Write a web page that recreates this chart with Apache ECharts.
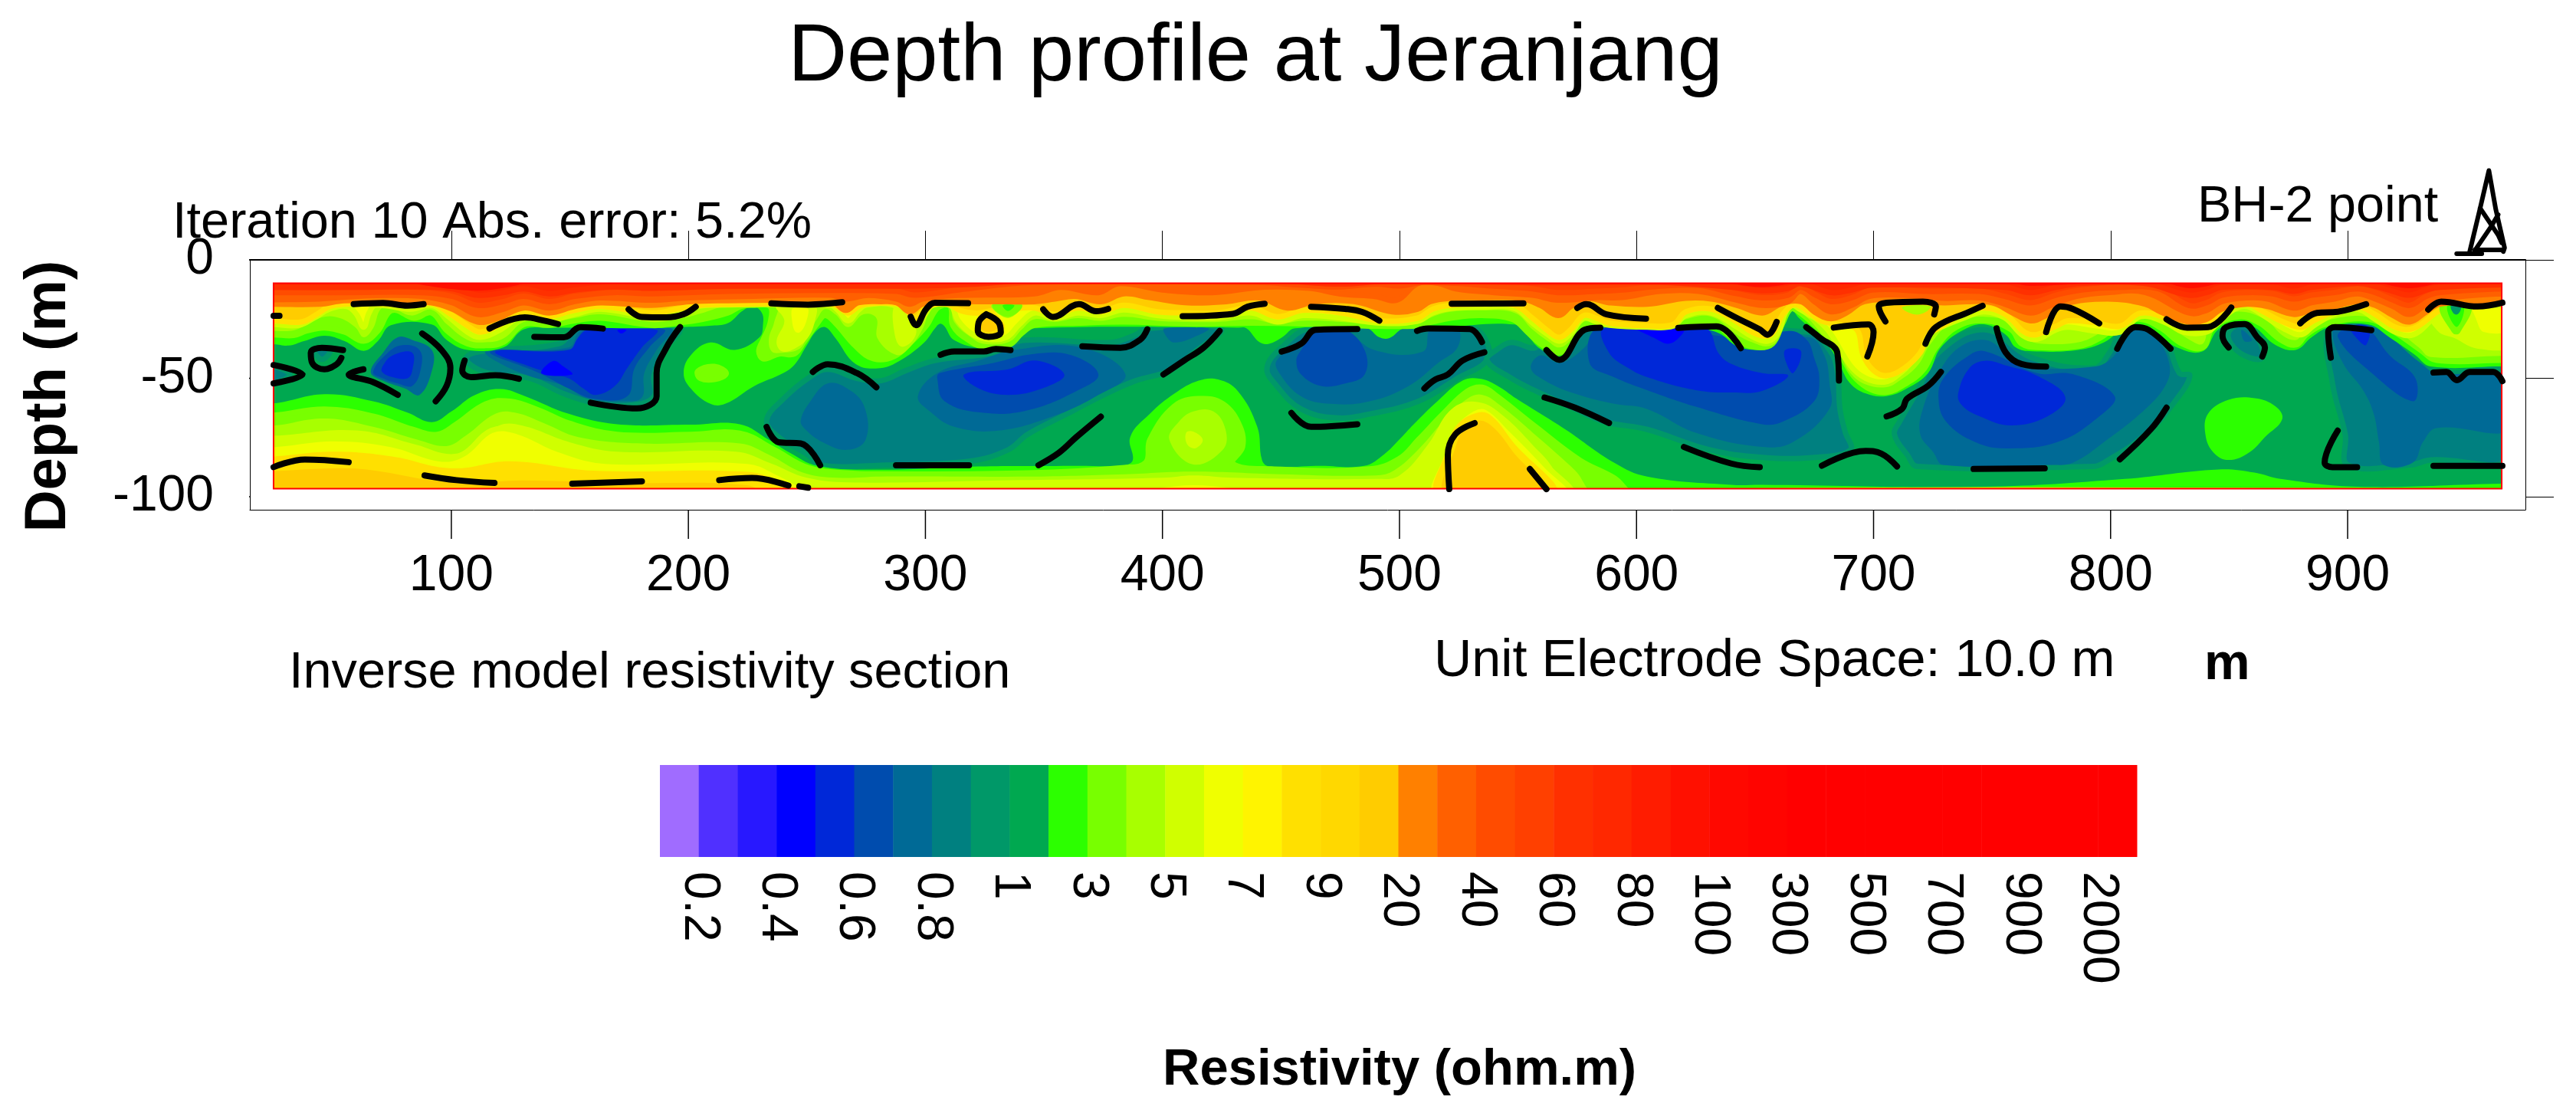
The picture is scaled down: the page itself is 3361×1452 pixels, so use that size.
<!DOCTYPE html>
<html>
<head>
<meta charset="utf-8">
<title>Depth profile at Jeranjang</title>
<style>
  html, body { margin: 0; padding: 0; background: #fff; }
  #chart { width: 3361px; height: 1452px; }
</style>
<script src="https://cdn.jsdelivr.net/npm/echarts@6/dist/echarts.min.js"></script>
</head>
<body>
<div id="chart"></div>
<script>
// colour bar: 38 cells, labelled on every second cell edge
const barLabels = ['0.2','0.4','0.6','0.8','1','3','5','7','9','20','40','60','80','100','300','500','700','900','2000'];
const bandColors = ['#a06cff','#5030ff','#2818ff','#0000ff','#0028d8','#004cae','#006a96','#008080','#009868','#00a850',
  '#2cff00','#78ff00','#a8ff00','#d0ff00','#f0ff00','#fff400','#ffe000','#ffd800','#ffcc00','#ff8000',
  '#ff6000','#ff4c00','#ff4000','#ff3000','#ff2800','#ff1c00','#ff1000','#ff0800','#ff0400','#ff0000',
  '#ff0000','#ff0000','#ff0000','#ff0000','#ff0000','#ff0000','#ff0000','#ff0000'];

const sectionX = [25, 965];
const sectionDepth = [-9.9, -96.6];
const frameX = [15, 975];
const frameDepth = [-105.5, 0];
const distanceTicks = [100,200,300,400,500,600,700,800,900];
const depthTicks = [0,-50,-100];
// how far the ticks stick out of the frame, in axis units
const tickReachDepth = 12.3;
const tickReachX = 12;

// contours of the upper layer: distance (m), depth (m), everything above is the given band or higher
const contourGreen = [[25,-35.6],[31.4,-36.2],[37.8,-34.3],[46.5,-32],[55,-34.3],[63,-38.4],[69,-34.3],[74.5,-27.6],[91.7,-27.3],[98,-33.8],[106.8,-38],[121.9,-37],[130.5,-29.4],[141.3,-28.7],[184.4,-28.9],[195,-28.4],[209,-27.8],[216.7,-26.7],[223,-21.4],[227.5,-19.7],[231,-22.4],[231.5,-27],[230,-32.7],[219.6,-38],[209.3,-34.9],[201,-40.3],[198,-47.8],[201,-54.3],[209.3,-60.8],[215.5,-60.8],[227.9,-53.2],[240,-47.8],[245,-44],[250,-36],[254,-30],[257.7,-28.4],[262,-33],[270.6,-44],[281,-45.7],[289.5,-42.4],[299.5,-34.9],[304,-29],[306,-27],[308,-28],[312,-33.8],[324.5,-37.5],[335,-37],[340.7,-32],[346,-28.9],[432,-28.6],[435.4,-28.9],[441,-34.8],[445,-35.4],[450.5,-32.7],[456,-28.9],[486,-28.9],[491.5,-32.7],[495.8,-33],[502,-28.9],[520,-28.3],[548.6,-27.3],[554,-32],[559.3,-37.5],[567,-40.8],[572.3,-37.5],[577.6,-28.4],[625,-28.8],[634.8,-31],[642.3,-36.4],[651,-38],[657.4,-36.4],[661.7,-27.8],[665,-20.5],[668,-24],[672.7,-28.4],[681.4,-37],[685.8,-44.5],[690,-52],[696.7,-56.4],[705.5,-57.5],[714.2,-54.2],[723,-47.8],[728.4,-37],[738.3,-29.4],[747,-27.3],[755.8,-31.6],[760,-37],[766.7,-38.6],[786.4,-38],[797.3,-34.8],[806,-28.4],[812.6,-27.3],[819,-30.5],[828,-37],[838.9,-38.6],[845.4,-29.4],[854,-26.2],[860.7,-28.4],[869.5,-35.9],[878.2,-38],[884.8,-32.7],[892.4,-28.4],[908.8,-27.3],[917.6,-32.7],[928.5,-40.2],[935,-45],[965,-45]];
const contourLime = [[25,-31.6],[33.5,-31.9],[39,-30],[46.5,-28.7],[55,-30.5],[63,-34.3],[69,-30],[73.4,-22.4],[76.7,-21.3],[84.2,-24.6],[91.7,-22.4],[98.2,-30],[106.8,-35.4],[114.4,-36.2],[122,-34.8],[130.5,-27.3],[141.3,-27.6],[152,-25.7],[163,-24.6],[184.4,-27.6],[195,-26.7],[206,-25.1],[216.7,-22.4],[222,-19.7],[227,-19.2],[234.5,-19.7],[234.5,-26.7],[231.8,-33.2],[229.7,-38.6],[231.8,-41.8],[238.3,-39.7],[244.8,-39.7],[249,-34.3],[254.5,-26.7],[257.7,-23.5],[262,-26.7],[270.6,-36.5],[278.2,-41.8],[286.8,-40.8],[294.4,-34.3],[300.8,-27.3],[303.5,-22.4],[306,-19.7],[310.5,-19.7],[311.6,-27.8],[318,-33.8],[324.5,-36.7],[335.3,-35.9],[340.7,-31],[346,-27.6],[364.3,-26.7],[383.7,-26.2],[410.7,-27],[437.6,-26.7],[459.2,-27],[491.5,-28],[507.6,-27.8],[514,-26.2],[521.6,-24.6],[534.6,-23.5],[547.5,-25.1],[554,-30.5],[559.3,-35.4],[566.9,-39.2],[572.3,-35.9],[577.7,-27.3],[626,-27.8],[631.6,-26.2],[642.4,-34.3],[651,-37],[657.4,-35.4],[661.7,-26.7],[665,-20.8],[668.3,-21.9],[676,-28.4],[683.6,-35.9],[688,-43.5],[692.4,-50],[698.9,-54.8],[705.5,-55.9],[713.1,-52.6],[720.8,-46.7],[726.3,-37],[735,-28.4],[747,-25.7],[758,-29.5],[762.4,-35.4],[768.9,-37],[786.4,-36.5],[795.2,-33.2],[803.9,-27.3],[812.6,-25.1],[821.4,-28.9],[830.1,-35.4],[838.9,-37],[843.3,-28.4],[854.2,-24],[863,-26.8],[871.7,-33.8],[878.3,-35.9],[882.6,-31.6],[890.3,-27.3],[908.9,-25.1],[919.8,-30.5],[930.8,-38.1],[937.5,-42.4],[965,-42.4]];
const contourPale = [[25,-30],[33.5,-29.8],[39,-27.3],[46.5,-24],[53,-24.6],[59.4,-28.4],[63,-32.7],[67,-28.9],[70.2,-20.8],[74.5,-20],[83,-23.5],[91.7,-21.1],[98.2,-27.3],[106.8,-33.8],[114.4,-34.8],[122,-33.2],[130.5,-26.2],[139,-26.7],[152,-24.6],[163,-23],[184.4,-26.2],[195.2,-25.1],[206,-22.4],[212.4,-20.3],[216.7,-19.4],[222,-19.2],[237.2,-19.2],[236.1,-26.7],[234,-33.2],[235.1,-38.6],[239.4,-39.2],[246.9,-37.5],[250.2,-32.1],[254.5,-24.6],[257.7,-20.8],[262,-23],[267.4,-28.4],[273.9,-23],[279.3,-24.6],[279.8,-33.2],[287.9,-40.2],[293.3,-37],[298.7,-29.4],[301.4,-21.9],[303,-19.2],[310,-19.2],[312.1,-26.2],[319.2,-32.7],[324.5,-35.4],[335.3,-34.6],[340.7,-29.4],[346,-25.1],[354.6,-26.2],[364.3,-24.6],[374,-25.7],[383.7,-24],[397.7,-25.7],[410.7,-26.2],[423.6,-26.2],[437.6,-25.1],[448.4,-27],[459.2,-25.7],[475.4,-26.2],[491.5,-27.6],[507.6,-27],[514,-24],[521.6,-21.9],[534.6,-21.3],[548.6,-22.4],[556.1,-29.4],[562.6,-34.3],[567.4,-37],[572.3,-33.8],[577.7,-26.2],[583,-27.3],[588.5,-28.4],[604.6,-28.7],[615.4,-28.5],[620.8,-25.1],[631.6,-24],[642.4,-31.6],[648.8,-34.8],[655.3,-36.5],[659.6,-33.8],[662.8,-24.6],[665,-20.3],[671.6,-24],[679.2,-32.7],[685.8,-40.2],[690.2,-47.8],[696.7,-52.6],[705.5,-53.7],[711,-51],[718.6,-44.6],[724.1,-35.4],[732.8,-26.8],[747,-24],[760.2,-27.3],[765.6,-33.8],[771.1,-35.4],[786.4,-34.8],[795.2,-31],[802.8,-25.1],[812.6,-23.5],[823.6,-27.3],[833.4,-33.8],[838.9,-35.4],[842.2,-26.8],[853.1,-21.9],[865.1,-25.1],[872.8,-32.1],[878.3,-33.8],[881.5,-30.5],[889.2,-26.2],[907.8,-24],[922,-31],[930,-37],[935,-41],[965,-40.5]];
const contourYellow = [[25,-27.3],[35.7,-27.6],[42,-24.6],[48.6,-20.8],[56,-19.7],[60,-23],[63,-28.4],[65.3,-22.4],[68,-19.2],[83,-20.8],[91.7,-19.2],[98.2,-23.5],[106.8,-30.5],[112.2,-32.7],[119.8,-30],[130.5,-23.5],[140.2,-25.7],[152,-23],[163,-20.8],[184.4,-24],[195.2,-22.4],[203.8,-19.7],[211.4,-19.1],[259.9,-19.1],[263.1,-21.3],[267.4,-25.7],[271.7,-21.3],[275,-19.1],[286.3,-19.1],[292.2,-24.6],[296,-28],[300.3,-22.4],[303,-19.2],[310.5,-19.2],[313.8,-25.7],[319.2,-31],[325.6,-33.4],[334.2,-32.7],[339.6,-27.3],[346,-22.4],[354.6,-24.6],[364.3,-22.4],[374,-23.5],[383.7,-21.1],[397.7,-23.5],[410.7,-24.4],[423.6,-24.4],[437.6,-22.4],[448.4,-26.2],[459.2,-23.5],[475.4,-24.6],[491.5,-26.7],[507.6,-25.9],[514,-22.4],[521.6,-20.5],[534.6,-20],[548.6,-20.5],[556.1,-26.7],[562.6,-31.6],[567.4,-34.3],[572.3,-31],[577.7,-24.6],[583,-26.2],[588.5,-27.6],[604.6,-28.4],[615.4,-28],[620.8,-23.5],[631.6,-22.4],[642.4,-28.4],[648.8,-32.4],[655.3,-34.3],[659.6,-31],[662.8,-22.4],[665.5,-19.2],[669.2,-21],[672.4,-23],[676,-25.1],[681.4,-30.5],[690.2,-44.6],[696.7,-50],[704.4,-51.6],[709.9,-48.9],[716.4,-42.4],[720.8,-32.7],[728.4,-28.5],[738.2,-24.5],[746.6,-21.9],[755.4,-24.5],[763,-32],[769,-33.5],[777,-29.5],[782,-28.4],[793,-30],[804,-30.5],[812.6,-24],[823.2,-26.5],[830.8,-30.5],[840.5,-30.5],[845.9,-26.2],[852.3,-20.8],[857.7,-19.7],[865.3,-24],[872.8,-28.9],[880.4,-31.6],[885.7,-27.8],[894.4,-23],[904.1,-20.8],[911.6,-25.1],[920.2,-30.5],[927.8,-31.6],[936.4,-24.6],[944,-19.7],[965,-19.2]];
const contourGold = [[25,-25.7],[36.8,-26.2],[43.2,-23],[48.6,-19.7],[55,-18.7],[68,-18.4],[83,-19.2],[91.7,-18.4],[98.2,-21.9],[106.8,-27.8],[112.2,-30.5],[119.8,-27.8],[130.5,-21.9],[140.2,-24],[152,-21.3],[163,-19.7],[184.4,-22.4],[195.2,-20.8],[203.8,-19.2],[214.6,-18.8],[259.9,-18.6],[263.1,-19.7],[267.4,-22.4],[271.7,-19.7],[275,-18.6],[288,-18.6],[292.2,-21.4],[295.5,-24.6],[300.3,-20.3],[304,-18.7],[310,-19],[315,-21.5],[322,-22.5],[330,-21],[338,-20.5],[346,-20.3],[354.6,-23],[364.3,-20.3],[374,-21.9],[383.7,-19.2],[397.7,-21.9],[410.7,-22.4],[423.6,-22.4],[437.6,-20.3],[448.4,-24],[459.2,-21.3],[475.4,-22.4],[491.5,-25.7],[507.6,-24.6],[514,-20.8],[521.6,-19.2],[534.6,-18.7],[548.6,-19.2],[556.1,-24.6],[562.6,-30],[567.4,-32.7],[572.3,-29.4],[577.7,-23.5],[583,-24.6],[588.5,-26.7],[604.6,-27.8],[615.4,-27.3],[620.8,-21.9],[631.6,-20.8],[642.4,-26.2],[648.8,-30.5],[655.3,-32.1],[658.5,-29.4],[661.7,-23],[666,-19],[669.2,-19.7],[672.4,-21.9],[677.8,-25.7],[685.4,-27.3],[692.9,-29.4],[695.6,-40.2],[700,-46.7],[705.5,-48.9],[713.1,-45.6],[719.7,-39.2],[723,-32],[729.6,-27.5],[738.2,-22.5],[746.6,-20.3],[755.4,-23],[766,-31.5],[777,-28],[782,-25.7],[793,-26.5],[804,-28],[812.6,-22.5],[823.2,-24.6],[830.8,-27.8],[840.5,-27.8],[845.9,-23],[852.3,-19.2],[857.7,-18.6],[865.3,-22.4],[872.8,-26.2],[880.4,-28.4],[885.7,-25.7],[894.4,-21.9],[904.1,-19.7],[911.6,-23],[920.2,-28.4],[927.8,-28.9],[938.6,-21.4],[944,-19.2],[965,-18.7]];
const contourOrange = [[25,-18.7],[44.3,-18.7],[55,-17.2],[76.7,-17.6],[91.7,-18.1],[100.4,-20.8],[111,-26.2],[119.8,-24.6],[130.5,-20.3],[141.3,-22.4],[152,-19.7],[163,-18.1],[184.4,-19.2],[200.6,-17.6],[216.7,-17.2],[238.3,-17],[259.9,-17],[266.3,-21.3],[271.7,-18.1],[281.4,-17.6],[287.9,-18.1],[293.3,-21.9],[298.7,-18.7],[305.1,-17.6],[324.5,-17.6],[346,-17.6],[354.6,-16.5],[363.2,-15.4],[374,-17.6],[383.7,-14.3],[394.5,-15.9],[410.7,-18.1],[426.9,-17.6],[440.9,-16],[452.7,-20.3],[464.6,-17.6],[480.8,-17.6],[496.9,-21.9],[507.6,-20.8],[513,-17.6],[521.6,-16.2],[534.6,-16],[550.7,-16.2],[559.4,-19.2],[566.9,-23.5],[572.3,-19.7],[578.8,-16.2],[588.5,-18.1],[604.6,-18.7],[620.8,-16.2],[631.6,-16.5],[642.4,-19.2],[653.1,-22.4],[660.7,-18.7],[669.2,-17.6],[675.7,-22.4],[682.1,-24.8],[688.6,-22.4],[696.2,-17.6],[712.3,-17],[729.6,-18.1],[739.3,-17.6],[750,-18.1],[758.7,-22.4],[766.2,-25.7],[772.7,-23.5],[780.3,-18.7],[798.6,-16.5],[814.6,-18.7],[821,-21.9],[832.9,-26.2],[840.5,-25.1],[846.9,-20.8],[857.7,-18.7],[866.3,-19.7],[877.1,-23],[884.7,-21.3],[894.4,-19.7],[904.1,-17.6],[911.6,-19.2],[919.2,-23.5],[926.2,-26.2],[933.2,-21.9],[938.6,-18.7],[954.7,-17.6],[965,-16.5]];
const contourFlame = [[25,-16.8],[44.3,-16.5],[65.9,-15.1],[87.4,-15.4],[100.4,-18.1],[111,-23],[122,-20.8],[130.5,-18.1],[141.3,-20.3],[152,-17.6],[163,-16],[184.4,-17],[200.6,-16],[227.5,-15.4],[259.9,-14.9],[266.3,-16.5],[276,-15],[287.9,-16.5],[293.3,-18.7],[298.7,-16.5],[313.8,-15],[346,-14.3],[357,-11.6],[373,-13.8],[381.6,-10],[400,-12.7],[421,-13.8],[443,-11.5],[462,-12],[475,-14.4],[490,-15.5],[499,-17],[507.6,-10],[516.2,-9.9],[523.8,-12.2],[539.9,-13.8],[556.1,-14.9],[566.9,-17],[583,-15.9],[593.8,-15.9],[610,-13.3],[626.2,-13.3],[642.4,-17],[653.1,-19.2],[663.9,-17.6],[669.2,-13.3],[675.7,-18.1],[682.1,-21.9],[690.8,-19.2],[698.3,-15.4],[712.3,-14.9],[729.6,-16.2],[744.7,-16],[755.4,-18.7],[766.2,-22.4],[774.8,-19.2],[785.6,-15.4],[798.6,-13.8],[814.7,-13.8],[833,-22.4],[840.5,-21.3],[846.9,-17.6],[857.7,-16],[866.3,-16.5],[877.1,-20.3],[884.7,-18.1],[894.4,-16.5],[904.1,-14.3],[911.6,-16.5],[919.2,-19.7],[926.2,-23],[933.2,-18.7],[938.6,-16.5],[965,-14.3]];
const contourRed = [[25,-13.8],[55,-13.8],[87.4,-13.8],[100.4,-15.4],[111,-19.2],[122,-17.6],[130.5,-15.4],[141.3,-17.6],[152,-15.4],[168,-13.8],[184.4,-14.3],[216.7,-13.3],[259.9,-12.9],[287.9,-13.3],[295.5,-14.9],[313.8,-12.7],[346,-9.5],[440,-9.5],[458,-10.6],[475,-11.4],[490,-10.2],[500,-11],[510,-9.5],[523.8,-9.9],[539.9,-11.1],[556.1,-12.2],[566.9,-13.8],[583,-13.3],[593.8,-12.7],[610,-11.1],[626.2,-10.8],[642.4,-14.3],[653.1,-16],[663.9,-14.9],[669.2,-11.6],[675.7,-14.9],[682.1,-17.6],[690.8,-16],[699.4,-12.7],[723.1,-13.3],[744.7,-13.3],[755.4,-15.4],[766.2,-18.1],[777,-14.9],[787.8,-12.7],[804,-11.6],[820.1,-12.2],[833,-19.2],[840.5,-18.1],[846.9,-14.9],[857.7,-13.8],[868.5,-14.3],[877.1,-16.5],[884.7,-14.9],[894.4,-13.8],[904.1,-12.2],[911.6,-13.8],[919.2,-17],[926.2,-19.2],[933.2,-15.4],[938.6,-13.8],[965,-12.2]];
const contourDeepRed = [[25,-11.6],[55,-11.6],[87.4,-11.4],[100.4,-12.2],[111,-14.9],[122,-13.8],[130.5,-12.2],[141.3,-14.3],[152,-12.7],[168,-11.4],[184.4,-11.9],[216.7,-11.1],[292.2,-11.1],[320,-10.3],[340,-9],[450,-9],[475,-10.2],[495,-9],[566.9,-9.6],[610,-9.5],[640,-11.5],[653.1,-13],[663.9,-12],[669.2,-10],[682.1,-13.8],[690.8,-12.7],[699.4,-10.6],[755.4,-11.6],[766.2,-13.8],[777,-11.6],[787.8,-9.9],[814,-9.9],[833,-14.9],[840.5,-13.8],[846.9,-11.6],[868.5,-11.6],[877.1,-13.3],[884.7,-11.6],[904.1,-9.9],[911.6,-11.1],[919.2,-13.3],[926.2,-14.9],[933.2,-12.7],[938.6,-11.6],[965,-10.5]];

// contours of the deep layer, everything below is the given band
const floorGreen = [[25,-60.6],[46.5,-56.7],[67,-59.7],[81.5,-64.5],[91.8,-68.5],[100,-64],[110,-57],[120.7,-54.5],[131,-57.5],[149.5,-65],[170,-69.4],[201,-69.6],[221.7,-69.4],[234,-76],[242,-81],[254.6,-87],[281,-88.6],[322.5,-87.2],[363.8,-87],[384,-86.7],[387.5,-84.5],[386.4,-74.8],[394.7,-65],[405,-56.5],[415.3,-51],[423.5,-50.5],[431.8,-55.4],[440,-70.5],[442,-84.5],[445,-87.2],[466.8,-87],[485,-87],[493.6,-82],[499.8,-76],[506,-69.4],[516,-59.7],[526.6,-51],[533.8,-50.2],[541,-53],[549.3,-58.6],[570,-71.6],[590.5,-85.6],[604.5,-91.5],[640,-95],[653,-95],[747,-95.8],[806,-92.5],[845.4,-88.5],[860.7,-89.8],[871.7,-92.5],[904.5,-95.8],[965,-94.5]];
const floorLime = [[25,-65.6],[46.5,-63],[67,-66],[83.5,-71.5],[94,-73.7],[102,-69.4],[114.5,-60.8],[124.8,-59.7],[137,-63.5],[149.5,-68.9],[170,-73.7],[201,-73.7],[221.7,-73.2],[236,-80],[250.5,-87.7],[267,-90],[281,-90.4],[343,-90],[384,-87.7],[393,-85.5],[394.7,-75.9],[405,-61.8],[415.3,-58.6],[425.6,-60.8],[432.8,-70.5],[433.8,-79],[429.7,-86],[446,-88.3],[487.4,-88.3],[499.8,-84],[508,-75.9],[518.4,-65],[528.7,-55.4],[535,-53.8],[541,-57.5],[557.5,-70.5],[576,-84.5],[590.5,-92],[600,-99]];
const floorPale = [[25,-70],[46.5,-67],[67,-70.5],[85.6,-75.9],[98,-78.6],[106,-74.3],[118.6,-65],[126.8,-64.5],[139,-68.9],[153.6,-74.8],[180.4,-77.5],[221.7,-77.5],[234,-82.3],[248.5,-89.9],[263,-92],[281,-91.5],[343,-91.5],[384,-90.5],[413,-89.4],[450,-90.5],[490,-91],[497.8,-88.8],[508,-80],[518.4,-68.3],[528.7,-58.6],[535,-57],[543,-61.8],[559.6,-75.9],[574,-88.8],[584,-99]];
const floorLemon = [[25,-74.3],[60,-72],[85,-78],[100,-82],[110,-78],[120,-70],[130,-70],[150,-77],[170,-81],[220,-81],[235,-86],[250,-92],[270,-94],[340,-93],[400,-92],[413,-91],[430,-92],[490,-92.5],[500,-91],[512,-78],[522,-63],[533,-60],[544,-66],[560,-82],[578,-99]];
const floorYellow = [[25,-78],[50,-75.5],[75,-78],[95,-84],[105,-82],[117,-72],[128,-72.5],[145,-80],[165,-85],[225,-85],[240,-91],[258,-99]];
const floorAmber = [[25,-83],[50,-81],[75,-83],[100,-88],[125,-85],[160,-89],[225,-89.5],[240,-94],[252,-99]];
const floorGold = [[25,-88],[60,-87],[100,-93],[130,-92],[170,-93],[225,-94],[237,-99]];

// closed bodies, low resistivity
const patchTealLeft = [[23,-45],[32,-48.5],[23,-52]];
const patchTealLoop = [[42,-38],[49,-38],[45.5,-42]];
const bodyB6 = [[66,-47.3],[71.2,-39.2],[77.4,-32.7],[83.5,-33.8],[91.8,-38.1],[91.8,-46.8],[86.6,-57],[80.4,-54.3],[71.2,-51]];
const bodyB5 = [[67,-47.3],[73.2,-39.2],[79.4,-36],[86.6,-38.1],[87.2,-45.7],[83.5,-53.2],[77.4,-52.2],[71.2,-50]];
const bodyB4 = [[71.2,-44.6],[75.3,-40.3],[83.5,-39.2],[83.5,-46.8],[81.5,-50],[75.3,-49.5],[70.8,-47.3]];
const bodyC7 = [[106.2,-41.4],[112.4,-38.7],[145.4,-35.4],[151.5,-29.5],[156.7,-29],[195.9,-29],[189.7,-38.1],[185.5,-48.9],[185.5,-57.6],[176.3,-61.3],[159.8,-60.3],[147.4,-56.5],[133,-50],[118.6,-48.4],[110.3,-45.7]];
const bodyC6 = [[114.5,-38.7],[149.5,-37],[153.6,-30.6],[156.7,-29],[192.8,-29],[186.6,-38.1],[181.4,-47.8],[180.4,-58.1],[172.2,-59.7],[157.7,-58.6],[147.4,-53.2],[131,-48.4],[116.5,-41.4]];
const bodyC5 = [[116.5,-38.7],[150.5,-37.6],[154.6,-31.1],[157.7,-29.3],[189.7,-29.3],[183.5,-37],[177.3,-45.7],[174.2,-57.6],[159.8,-58.6],[149.5,-54.3],[137.1,-47.8]];
const bodyC4 = [[118.6,-38.7],[149.5,-38.1],[153.6,-32.7],[157.7,-29.5],[186.6,-29.5],[180.4,-37],[174.2,-45.7],[169,-53.2],[160.8,-57],[155.7,-54.3],[149.5,-50],[135,-45.7]];
const bodyC3 = [[138.1,-48],[142.9,-42.7],[147.4,-45.1],[151,-48.4]];
const bodyC3b = [[170.1,-29.5],[173.8,-29.5],[171.7,-31.1]];
const bodyD7 = [[233,-67.8],[240.2,-58.6],[250.5,-50],[258.7,-46.2],[271.1,-50],[281.3,-51],[291.6,-46.8],[304,-42.5],[328.7,-39.2],[341.1,-34],[378.2,-34.9],[388.5,-31.7],[393.6,-29],[424.5,-29],[413.2,-39.2],[402.9,-46.8],[388.5,-51.1],[374,-57.6],[359.6,-65.1],[343.1,-73.7],[334.9,-80.2],[318.4,-85],[281.3,-86.7],[255.6,-86.7],[250.5,-82.4],[238.1,-74.8]];
const bodyD6a = [[247.4,-67.8],[251.5,-59.7],[258.7,-52.2],[267,-54.3],[274.2,-61.9],[274.8,-75.9],[267,-80.2],[256.7,-77],[249.4,-71.6]];
const bodyD6b = [[296.8,-57.6],[305,-47.8],[322.5,-42.5],[337,-38.1],[365.8,-37],[384.4,-48.4],[372,-57.6],[353.4,-66.2],[330.8,-72.1],[312.2,-70.5],[301.9,-64]];
const bodyD6c = [[400.8,-29],[419.4,-29],[413.2,-32.7],[405,-34.9],[401.9,-32.7]];
const bodyD5 = [[305,-50],[306,-47.8],[328.7,-43.5],[345.2,-39.8],[361.7,-40.3],[373,-48.4],[363.7,-55.4],[343.1,-63.5],[324.6,-64.6],[308.1,-59.7]];
const bodyD4 = [[316.3,-48.4],[334.9,-46.2],[346.2,-42.5],[358.6,-48.4],[349.3,-54.3],[334.9,-57],[322.5,-54.3]];
const bodyE7 = [[444.1,-45.7],[450.3,-37],[462.7,-29],[530.7,-29],[536.9,-34.9],[536.9,-42.5],[524.5,-50],[508,-59.7],[487.4,-65.1],[473,-66.7],[458.5,-63],[448.2,-53.2]];
const bodyE6 = [[448.2,-42.5],[460.6,-31.7],[464.7,-29],[476,-29],[489.5,-38.1],[510,-38.7],[513.2,-29],[524.5,-29],[524.5,-37],[516.3,-43.5],[503.9,-53.2],[487.4,-59.7],[470.9,-60.8],[458.5,-57.6],[449.3,-47.8]];
const bodyE5 = [[456.5,-42.5],[458.5,-38.1],[464.7,-29.5],[477.1,-29.5],[485.3,-38.1],[485.3,-48.4],[477.1,-52.2],[466.8,-53.2],[458.5,-48.4]];
const bodyF6 = [[546.1,-37.6],[554.4,-39.2],[549.2,-42.5],[543,-40.3]];
const bodyG7 = [[536.9,-42.5],[541,-38],[547.2,-34.9],[557.5,-37],[565,-29],[672.7,-30.5],[681.4,-38.1],[684.7,-46.7],[685.8,-62.9],[688,-72.6],[690.2,-80.2],[675,-83.4],[653,-83.4],[630,-80],[604.5,-71.6],[586.3,-68.3],[574,-62.9],[557.5,-55.4],[547.2,-50]];
const bodyG6 = [[555.4,-45.7],[559.5,-40.3],[567.8,-43.5],[578.1,-37],[584.3,-29],[672.7,-32.7],[679.2,-40.2],[681.4,-52.1],[681.4,-62.9],[666.1,-76.9],[653,-79],[625,-73],[604.5,-63],[590.5,-60.8],[574,-56.5],[561.6,-51.1]];
const bodyG5 = [[580.2,-43.5],[584,-29],[650,-33],[665,-30],[672,-34],[674.9,-41.3],[677.1,-50],[674.9,-59.7],[661.7,-68.3],[653,-69.4],[625,-62],[604.5,-55],[590.5,-49.5]];
const bodyG4 = [[586.3,-29],[588.4,-39.2],[596.6,-45.7],[604.5,-49.5],[625,-55],[640,-56],[653,-55.3],[664,-48.9],[653,-47.8],[640.2,-44],[634.8,-39.7],[628.9,-29]];
const bodyG4b = [[662.8,-38],[669.4,-38.6],[666.1,-47.8],[663,-43]];
const bodyG3 = [[600.3,-28.9],[619.7,-29.4],[617.6,-33.2],[613.2,-35.4],[607.9,-33.2]];
const bodyH7 = [[708.8,-73.7],[711,-68.3],[718.6,-55.3],[727.4,-39.2],[747,-29.5],[766.7,-41.3],[793,-45.6],[799.5,-39.2],[805,-29.5],[812.6,-27.5],[822.5,-32.7],[829,-47.8],[833.4,-48.9],[828,-58.6],[814.8,-73.7],[797.3,-85.6],[793,-87.2],[718.6,-87.2],[714.2,-82.3]];
const bodyH6 = [[719.7,-73.7],[720.8,-62.9],[727.4,-47.8],[736.1,-37],[747,-33.8],[755.8,-39.2],[762.4,-44.6],[793,-45.1],[801.7,-40.2],[806,-30.5],[812.6,-28.4],[819.2,-32.7],[824.7,-43.5],[823.6,-52.1],[814.8,-62.9],[797.3,-76.9],[784.2,-85.6],[775.5,-86.6],[729.5,-86.6],[725.2,-81.2]];
const bodyH5 = [[727.4,-58.6],[729.5,-50],[740.5,-40.2],[747,-38.6],[768.9,-47.8],[784.2,-48.3],[801.7,-57.5],[795.2,-66.1],[777.7,-76.9],[755.8,-79.6],[742.7,-76.9],[730.6,-68.3]];
const bodyH4 = [[735.7,-56.4],[740.5,-45.6],[747,-42.6],[755.8,-44.6],[768.9,-48.9],[780.9,-58],[773.3,-66.1],[758,-69.9],[744.9,-66.1],[737.2,-61.3]];
const bodyI7 = [[849.8,-30.5],[856.4,-27.3],[863,-34.8],[864,-41.3],[858.6,-41.3],[852,-37]];
const bodyI6 = [[855.3,-29.5],[859.7,-33.8],[856.4,-34.3]];
const bodyJ7 = [[892.5,-29.5],[908.9,-27.3],[935.1,-46.7],[970,-48.9],[970,-83.4],[935.1,-84.5],[926.4,-86.6],[900.1,-86.6],[899,-73.7],[893.6,-52.1]];
const bodyJ6 = [[893.6,-30.5],[898,-28.4],[911.1,-28.4],[930.7,-43.5],[937.5,-47.8],[970,-50],[970,-71.6],[937.5,-71],[931.8,-76.9],[927.5,-85.6],[915.3,-86.6],[913.2,-76.9],[911,-65],[906.7,-55.3],[898,-43.5]];
const bodyJ5 = [[895.9,-32.7],[900.2,-28.4],[907.8,-28.4],[917.6,-40.2],[928.6,-50],[927.5,-59.7],[908.9,-46.7]];
const bodyJ4 = [[901.1,-28.4],[908.9,-28.4],[907.8,-35.9],[904.5,-33.8]];

// closed bodies, high resistivity
const lobeLime = [[204,-47],[211,-45],[216,-48],[211,-50.5],[205,-50]];
const lobeLemonA = [[237.2,-19.7],[253.4,-19.7],[253.4,-25.7],[250.2,-33.2],[244.8,-37.5],[239.4,-38.6],[237.2,-34.3],[240.5,-25.7]];
const lobeYellowA = [[243.2,-19.7],[251.2,-19.7],[250.7,-26.7],[247.5,-31.6],[244.2,-31],[242.6,-25.7]];
const lobeLemonB = [[286.8,-19.7],[290.6,-22.4],[296,-28.9],[294.4,-34.3],[289.5,-36.5],[286.8,-30]];
const lobePale420 = [[402.9,-75.9],[407,-68.3],[413,-64],[421.5,-64],[426.6,-71.6],[425.6,-80],[413,-86.4]];
const lobeLemon420 = [[410,-73],[413,-72.5],[417,-76],[414,-79.5],[410.5,-78]];
const lensYellow = [[385,-99],[413,-94],[445,-99]];
const moundYellow = [[514,-99],[518.4,-81],[522.5,-70.5],[530.7,-63],[537,-62.4],[547,-71.6],[561.7,-86.7],[572,-99]];
const moundAmber = [[516,-99],[520,-80],[524,-70],[533,-64.5],[539,-66],[548,-77],[566,-99]];
const moundGold = [[518.4,-99],[522.5,-79],[526.6,-70.5],[533.8,-66.7],[541,-70.5],[549.3,-81],[563.7,-99]];
const lobeGreen850 = [[840,-73.7],[841.1,-65],[849.8,-59.1],[860.8,-58.4],[869.5,-61.8],[872.4,-67.2],[865.1,-74.8],[858.6,-81.2],[849.8,-84.5],[843.3,-81.2]];
const loopGold = [[326.7,-22.4],[331.5,-26.2],[332.1,-28.9],[326.7,-31.6],[322.4,-29.4],[323.4,-24.6]];
const pocketPale = [[327.8,-19.2],[340.7,-19.2],[334.8,-24.6]];
const pocketLime = [[329.4,-19.2],[339.6,-19.2],[334.8,-23]];
const pocketGreen = [[332.6,-19.2],[337.5,-19.2],[334.8,-21.6]];
const archPale = [[712,-20],[724,-19.5],[722,-22],[717,-23]];
const rightLemon = [[933,-19.5],[970,-19.5],[970,-36],[955,-37.5],[945,-33],[938,-30]];
const rightYellow = [[952,-19.5],[970,-19.5],[970,-30],[957,-31.5],[953,-25]];
const spikeLime = [[940,-19.5],[951,-19.5],[946.5,-30],[945,-30]];
const spikeGreen = [[942,-19.5],[949,-19.5],[946,-28.3]];
const spikeTeal = [[944.6,-19.5],[946.8,-19.5],[945.8,-22]];
const crestsRed = [
  [[85,-9.5],[111,-13],[130,-9.5]],
  [[640,-9.5],[653,-11.5],[665,-9.5]],
  [[760,-9.5],[766,-11],[790,-9.5]],
  [[825,-9.5],[834,-12],[845,-9.5]],
  [[915,-9.5],[926,-12],[937,-9.5]]
];

// thick black strokes drawn over the section
const blackStrokes = [
  [[25,-23.6],[27.5,-23.6]],
  [[58.8,-18.7],[71.2,-18.2],[81.5,-19.3],[88.3,-18.7]],
  [[116.1,-29],[131,-24.3],[139.2,-25.7],[145,-27.1]],
  [[174.8,-20.9],[180.4,-24.1],[190.7,-24.3],[197.9,-23],[203.1,-19.8]],
  [[235,-18.4],[250.4,-18.9],[264.9,-17.9]],
  [[135,-32.5],[147.4,-32.7],[154.6,-28.4],[163.9,-29]],
  [[196.5,-28.4],[190.7,-37.1],[186.6,-47.8],[186.6,-57.6],[178.3,-62.7],[158.8,-60.3]],
  [[54.3,-38.1],[45.4,-37.1],[40.7,-39.2],[41.3,-43.5],[46.4,-46.2],[51.6,-44.1],[53.6,-41.4]],
  [[25,-44.4],[37.2,-48.4],[25,-52.2]],
  [[62.9,-46.2],[56.7,-48.4],[67,-51.6],[77.4,-57]],
  [[87.7,-31.1],[95.9,-38.1],[99.6,-45.7],[98,-53.2],[93.4,-59.7]],
  [[105.6,-42.5],[104.6,-46.8],[108.3,-49.5],[118.6,-48.7],[128.5,-50.2]],
  [[252.5,-47.3],[258.8,-44.1],[271.1,-47.8],[279.3,-53.8]],
  [[233,-70.5],[238.1,-77],[247.4,-77.5],[255.6,-86.7]],
  [[287.6,-86.7],[318.4,-86.7]],
  [[25,-87.5],[38.2,-84.3],[56.7,-85.4]],
  [[88.7,-91],[102.1,-93],[118.2,-94.2]],
  [[151,-94.5],[180.4,-93.5]],
  [[213,-93],[226.8,-92.1],[242.2,-95.3]],
  [[246.8,-95.6],[250.5,-96.2]],
  [[293.8,-24],[296,-27.6],[300.3,-20.8],[304,-18.1],[318,-18.3]],
  [[325.6,-23],[330.8,-26.3],[331.8,-30.6],[326.6,-32.5],[322.1,-30],[322.5,-26.3],[325.6,-23]],
  [[349.7,-20.9],[353.8,-24.1],[364.8,-18.7],[372,-21.7],[377.1,-20.7]],
  [[306.4,-40.1],[312.2,-38.7],[324.6,-38.7],[329.7,-37.6],[335.9,-38.1]],
  [[366.2,-36.5],[382.3,-37.1],[390.5,-33.8],[393.6,-29.3]],
  [[424.1,-30],[417.3,-37.1],[409.1,-42.5],[400.4,-48.4]],
  [[408.5,-23.8],[429.7,-22.8],[435.9,-19.8],[443.1,-18.5]],
  [[462.7,-19.8],[477.1,-20.7],[484.3,-22],[491.5,-25.7]],
  [[450.3,-38.7],[458.5,-35.4],[464.7,-29.5],[482.2,-29.2]],
  [[507.4,-30],[512.1,-29],[529.6,-29.2],[534.8,-34.7]],
  [[522,-18.5],[552.3,-18.4]],
  [[535.8,-39],[526.6,-42.5],[520.4,-48.4],[515.2,-50.5],[510.5,-54.3]],
  [[562,-38.1],[567.4,-42.2],[578.1,-29.5],[584.7,-28.6]],
  [[575,-20.3],[578.8,-18.7],[587.4,-23],[604,-24.8]],
  [[374,-66.2],[363.7,-74.8],[356.5,-81.3],[347.7,-86.7]],
  [[454.4,-64.6],[462.7,-70.5],[482.2,-69.4]],
  [[531.7,-68.9],[523.5,-73.7],[520.4,-82.4],[521,-96.8]],
  [[555,-88.3],[562,-96.8]],
  [[561.2,-58.1],[574,-62.4],[588.4,-68.9]],
  [[617.6,-28.7],[633.7,-28.1],[644,-37.3]],
  [[634.3,-20.3],[642.4,-24.6],[652,-29.4],[655.3,-31.6],[659.1,-26.2]],
  [[671.6,-28.4],[677.1,-32.7],[684.7,-39.2],[685.4,-51]],
  [[683.2,-28.6],[697.8,-27.3],[700,-30.5],[697.4,-40.8]],
  [[705,-26],[702.2,-19.7],[705.5,-18.1],[720.8,-17.6],[726.3,-19.7],[725.6,-23]],
  [[721.9,-35.4],[726.3,-28.4],[740.5,-21.9],[746,-19.4]],
  [[728.4,-47.3],[723,-53.2],[714.2,-58.6],[712,-62.9],[705.5,-66.1]],
  [[751.9,-28.9],[755.8,-39.2],[762.4,-44],[772.8,-45.1]],
  [[772.8,-30.5],[778.8,-19.7],[784.2,-20.8],[795.2,-26.8]],
  [[802.8,-37.5],[810.5,-28.4],[815.9,-29.5],[825.3,-37.5]],
  [[823.6,-25.1],[832.3,-28.6],[841.1,-28.4],[850.9,-20.1]],
  [[849.8,-37],[847.2,-32.1],[848.7,-28.4],[856.4,-27.1],[861.9,-32.7],[865.1,-37],[864,-40.8]],
  [[880,-26.8],[887,-22.4],[895.8,-21.9],[907.8,-18.7]],
  [[892.9,-41.3],[891.8,-30.5],[894.7,-28.4],[910,-29.7]],
  [[934,-21],[939.5,-17.6],[954.8,-19.7],[965.3,-18.1]],
  [[936.2,-47.6],[941.7,-47.3],[946.1,-50.8],[951.5,-47.3],[961.4,-47.3],[965.3,-51.2]],
  [[620,-79],[640,-86],[652,-87.5]],
  [[678.2,-86.9],[696.7,-80.7],[703.3,-81.8],[709.9,-87.2]],
  [[742.2,-88.3],[772.2,-88]],
  [[823.6,-62.4],[817,-71.5],[803.9,-84.2]],
  [[895.8,-72.1],[890.3,-85.6],[893.6,-87.5],[904,-87.5]],
  [[936.2,-87],[965.3,-87]]
];

// the borehole rig above the section
const rigStrokes = [
  [[951.5,3.5],[955.9,21.8],[959.6,37.7],[962.5,21.3],[966.2,5.1],[965.7,3.5]],
  [[955.9,21.8],[963.5,10.5],[965,7.2]],
  [[963.5,19.1],[960.3,13.7],[953.7,4]],
  [[946,2.6],[956.6,2.6]],
  [[953.7,4.2],[965.7,4.2]]
];

const el = (id) => document.getElementById(id);
const chart = echarts.init(el('chart'));

// regions are painted back to front, each closed past the section edge and clipped to it
const above = (c) => [...c, [980, c[c.length - 1][1]], [980, 0], [10, 0], [10, c[0][1]]];
const below = (c) => [...c, [980, c[c.length - 1][1]], [980, -112], [10, -112], [10, c[0][1]]];

const layers = [
  [7, patchTealLeft], [7, patchTealLoop],
  [7, bodyC7], [6, bodyC6], [5, bodyC5], [4, bodyC4], [3, bodyC3], [3, bodyC3b],
  [7, bodyD7], [6, bodyD6a], [6, bodyD6b], [6, bodyD6c], [5, bodyD5], [4, bodyD4],
  [6, bodyB6], [5, bodyB5], [4, bodyB4],
  [7, bodyE7], [6, bodyE6], [5, bodyE5], [6, bodyF6],
  [7, bodyG7], [6, bodyG6], [5, bodyG5], [4, bodyG4], [4, bodyG4b], [3, bodyG3],
  [7, bodyH7], [6, bodyH6], [5, bodyH5], [4, bodyH4],
  [7, bodyI7], [6, bodyI6],
  [7, bodyJ7], [6, bodyJ6], [5, bodyJ5], [4, bodyJ4],
  [10, above(contourGreen)], [11, lobeLime], [11, above(contourLime)], [12, above(contourPale)],
  [13, lobeLemonA], [14, lobeYellowA], [13, lobeLemonB], [13, rightLemon], [14, rightYellow],
  [14, above(contourYellow)], [18, above(contourGold)],
  [10, lobeGreen850],
  [10, below(floorGreen)], [11, below(floorLime)], [12, lobePale420], [13, lobeLemon420],
  [12, below(floorPale)], [13, below(floorLemon)], [14, below(floorYellow)], [16, below(floorAmber)], [18, below(floorGold)],
  [14, lensYellow], [14, moundYellow], [16, moundAmber], [18, moundGold],
  [18, loopGold], [12, pocketPale], [11, pocketLime], [10, pocketGreen], [12, archPale],
  [11, spikeLime], [10, spikeGreen], [7, spikeTeal],
  [19, above(contourOrange)], [20, above(contourFlame)], [22, above(contourRed)], [24, above(contourDeepRed)],
  ...crestsRed.map((c) => [26, c])
];

// a soft rim in the neighbouring band stands in for the thin bands of the original
const rimBand = { 7: 8, 14: 13, 18: 16, 11: 11, 19: 19, 20: 20, 22: 21, 24: 23 };

const renderSection = (params, api) => {
  const [band, pts] = layers[params.dataIndex];
  const a = api.coord([sectionX[0], sectionDepth[0]]);
  const b = api.coord([sectionX[1], sectionDepth[1]]);
  const rim = rimBand[band];
  return {
    type: 'polygon',
    shape: { points: pts.map((p) => api.coord(p)), smooth: 0.4 },
    style: {
      fill: bandColors[band],
      stroke: rim !== undefined ? bandColors[rim] : null,
      lineWidth: rim !== undefined ? 7 : 0
    },
    clipPath: { type: 'rect', shape: { x: a[0], y: a[1], width: b[0] - a[0], height: b[1] - a[1] } }
  };
};

const renderRect = (fill, stroke) => (params, api) => {
  const a = api.coord([sectionX[0], sectionDepth[0]]);
  const b = api.coord([sectionX[1], sectionDepth[1]]);
  return {
    type: 'rect',
    shape: { x: a[0], y: a[1], width: b[0] - a[0], height: b[1] - a[1] },
    style: { fill: fill, stroke: stroke, lineWidth: stroke ? 2 : 0 }
  };
};

// the labelled sides get their ticks as short line series running out of the frame
const outerTicks = [
  ...distanceTicks.map((t) => [[t, frameDepth[0]], [t, frameDepth[0] - tickReachDepth]]),
  ...depthTicks.map((d) => [[frameX[0], d], [frameX[0] - tickReachX, d]])
];

const barEdges = ['', ...barLabels.flatMap((t) => [t, ''])];
const textFont = (size, bold) => (bold ? 'bold ' : '') + size + 'px "Liberation Sans", Arial, sans-serif';
const note = (text, x, y, size, bold) => ({
  type: 'text', x: x, y: y, silent: true,
  style: { text: text, font: textFont(size, bold), fill: '#000' }
});
const labelStyle = { color: '#000', fontSize: 66, fontFamily: 'Liberation Sans' };

const depthAxis = (position, showLabels) => ({
  type: 'value', position: position, min: frameDepth[0], max: frameDepth[1], gridIndex: 0,
  axisLine: { show: true, onZero: false, lineStyle: { color: '#000', width: 1 } },
  axisTick: { show: !showLabels, customValues: depthTicks, length: 37, lineStyle: { color: '#000', width: 1 } },
  axisLabel: Object.assign({ show: showLabels, customValues: depthTicks, margin: 47 }, labelStyle),
  splitLine: { show: false }
});
const runAxis = (position, showLabels, lineWidth) => ({
  type: 'value', position: position, min: frameX[0], max: frameX[1], gridIndex: 0,
  axisLine: { show: true, onZero: false, lineStyle: { color: '#000', width: lineWidth } },
  axisTick: { show: !showLabels, customValues: distanceTicks, length: 38, lineStyle: { color: '#000', width: 1 } },
  axisLabel: Object.assign({ show: showLabels, customValues: distanceTicks, margin: 54 }, labelStyle),
  splitLine: { show: false }
});

chart.setOption({
  animation: false,
  backgroundColor: '#fff',
  title: {
    text: 'Depth profile at Jeranjang', left: 1633, top: 17, textAlign: 'center',
    textStyle: { fontSize: 106.5, fontWeight: 'normal', color: '#000', fontFamily: 'Liberation Sans' }
  },
  grid: [
    { left: 326, right: 66, top: 339, bottom: 787 },
    { left: 861, right: 573, top: 998, bottom: 334 }
  ],
  xAxis: [
    runAxis('bottom', true, 1),
    runAxis('top', false, 2),
    {
      type: 'category', gridIndex: 1, data: barEdges, boundaryGap: false,
      axisLine: { show: false }, axisTick: { show: false },
      axisLabel: Object.assign({ interval: 0, rotate: -90, margin: 19 }, labelStyle)
    }
  ],
  yAxis: [
    depthAxis('left', true),
    depthAxis('right', false),
    { type: 'value', gridIndex: 1, min: 0, max: 1, show: false }
  ],
  series: [
    {
      type: 'custom', xAxisIndex: 0, yAxisIndex: 0, z: 2, silent: true,
      renderItem: renderRect(bandColors[9], null), data: [[sectionX[0], sectionDepth[0]]]
    },
    {
      type: 'custom', xAxisIndex: 0, yAxisIndex: 0, z: 3, silent: true,
      renderItem: renderSection, data: layers.map((l) => l[1][0])
    },
    {
      type: 'custom', xAxisIndex: 0, yAxisIndex: 0, z: 4, silent: true,
      renderItem: renderRect('none', '#ff0000'), data: [[sectionX[0], sectionDepth[0]]]
    },
    ...outerTicks.map((s) => ({
      type: 'line', xAxisIndex: 0, yAxisIndex: 0, z: 6, silent: true, data: s, clip: false,
      showSymbol: false, lineStyle: { color: '#000', width: 1.5 }
    })),
    ...blackStrokes.map((s) => ({
      type: 'line', xAxisIndex: 0, yAxisIndex: 0, z: 5, silent: true, data: s, smooth: 0.4,
      showSymbol: false, lineStyle: { color: '#000', width: 8, cap: 'round', join: 'round' }
    })),
    ...rigStrokes.map((s) => ({
      type: 'line', xAxisIndex: 0, yAxisIndex: 0, z: 5, silent: true, data: s, clip: false,
      showSymbol: false, lineStyle: { color: '#000', width: 6, cap: 'round', join: 'round' }
    })),
    {
      type: 'custom', xAxisIndex: 2, yAxisIndex: 2, silent: true,
      renderItem: (params, api) => {
        const i = params.dataIndex;
        const a = api.coord([i, 1]);
        const b = api.coord([i + 1, 0]);
        return { type: 'rect', shape: { x: a[0], y: a[1], width: b[0] - a[0] + 0.5, height: b[1] - a[1] }, style: { fill: bandColors[i] } };
      },
      data: bandColors.map((c, i) => [i, 1])
    }
  ],
  graphic: [
    note('Iteration 10 Abs. error: 5.2%', 225, 258, 66.7),
    note('BH-2 point', 2867, 237, 66.5),
    note('Inverse model resistivity section', 377, 845, 66.7),
    note('Unit Electrode Space: 10.0 m', 1871, 829, 68.3),
    note('m', 2876, 834, 67, true),
    note('Resistivity (ohm.m)', 1517, 1363, 67, true),
    { type: 'text', x: 64, y: 517, rotation: Math.PI / 2, silent: true,
      style: { text: 'Depth (m)', font: textFont(76, true), fill: '#000', textAlign: 'center', textVerticalAlign: 'middle' } }
  ]
});
window.addEventListener('resize', () => chart.resize());
</script>
</body>
</html>
